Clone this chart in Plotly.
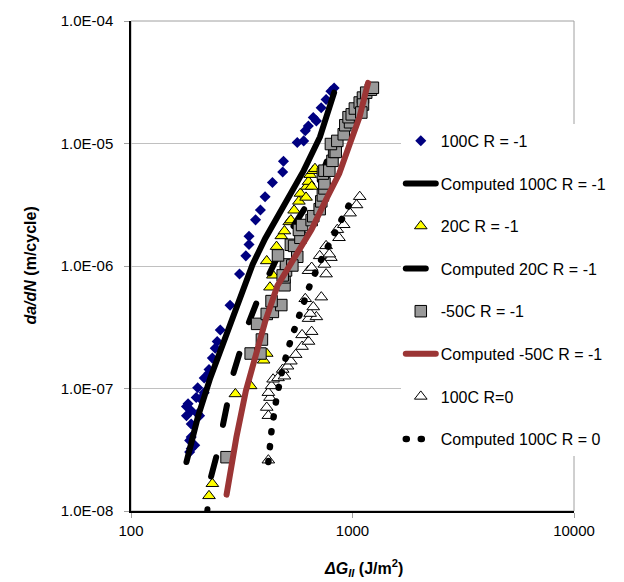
import plotly.graph_objects as go

# ---------------- data ----------------
dia_x = [184, 187, 194, 184, 187, 187, 178, 204, 200, 187, 178, 181, 197, 206, 214, 200, 214, 225, 225, 233,
         240, 245, 253, 280, 309, 330, 341, 341, 365, 384, 403, 435, 484, 488, 563, 602, 612, 632, 687, 665,
         722, 760, 799, 826]
dia_y = [3.03e-8, 3.24e-8, 3.44e-8, 3.77e-8, 4.01e-8, 5.14e-8, 6.0e-8, 6.0e-8, 6.23e-8, 6.58e-8,
         7.13e-8, 7.5e-8, 8.43e-8, 8.23e-8, 9.25e-8, 1.015e-7, 1.22e-7, 1.34e-7, 1.43e-7, 1.77e-7,
         2.13e-7, 2.42e-7, 3.0e-7, 4.78e-7, 8.59e-7, 1.21e-6, 1.5e-6, 1.75e-6, 2.38e-6, 2.87e-6,
         3.68e-6, 4.8e-6, 5.86e-6, 7.16e-6, 1.02e-5, 1.05e-5, 1.27e-5, 1.39e-5, 1.53e-5, 1.63e-5,
         1.96e-5, 2.29e-5, 2.67e-5, 2.84e-5]

c100_x = [178, 200, 228, 262, 299, 354, 403, 493, 602, 713, 826]
c100_y = [2.51e-8, 5.78e-8, 1.22e-7, 2.37e-7, 4.54e-7, 1.03e-6, 1.67e-6, 3.25e-6, 6.0e-6, 1.13e-5, 2.6e-5]

t20_x = [225, 233, 296, 347, 397, 410, 424, 437, 410, 454, 477, 493, 518, 527, 545, 573, 582, 617, 622,
         633, 654, 644, 665, 677]
t20_y = [1.33e-8, 1.67e-8, 9.03e-8, 1.05e-7, 1.70e-7, 1.93e-7, 6.71e-7, 8.4e-7, 1.10e-6, 1.44e-6,
         1.76e-6, 1.93e-6, 2.29e-6, 2.37e-6, 2.85e-6, 3.37e-6, 3.91e-6, 3.63e-6, 4.46e-6, 4.89e-6,
         4.46e-6, 5.57e-6, 6.0e-6, 6.23e-6]

c20_x = [217, 228, 245, 262, 290, 340, 388, 446, 545, 685, 788]
c20_y = [7.1e-9, 1.80e-8, 2.96e-8, 5.17e-8, 1.33e-7, 3.44e-7, 6.34e-7, 1.07e-6, 2.16e-6, 4.14e-6, 8.23e-6]

s50_x = [270, 347, 384, 371, 390, 410, 437, 477, 431, 493, 493, 501, 501, 563, 461, 527, 545, 582, 573,
         592, 654, 665, 711, 723, 735, 747, 747, 735, 747, 786, 812, 826, 840, 799, 854, 913, 928, 975,
         960, 992, 1025, 1078, 1115, 1115, 1096, 1153, 1211, 1236, 535, 484]
s50_y = [2.75e-8, 1.93e-7, 1.93e-7, 3.37e-7, 2.51e-7, 4.06e-7, 4.22e-7, 4.8e-7, 5.17e-7, 6.96e-7,
         8.08e-7, 9.2e-7, 1.03e-6, 1.19e-6, 1.22e-6, 1.49e-6, 1.46e-6, 1.70e-6, 1.97e-6, 2.16e-6,
         2.37e-6, 2.55e-6, 2.91e-6, 3.37e-6, 3.77e-6, 4.30e-6, 4.72e-6, 5.68e-6, 6.0e-6, 6.0e-6,
         7.22e-6, 8.54e-6, 8.54e-6, 9.9e-6, 1.05e-5, 1.19e-5, 1.41e-5, 1.49e-5, 1.64e-5, 1.73e-5,
         1.93e-5, 2.16e-5, 2.37e-5, 2.08e-5, 1.79e-5, 2.60e-5, 2.75e-5, 2.85e-5, 1.01e-6, 8.38e-7]

r50_x = [270, 299, 330, 365, 403, 458, 545, 652, 757, 871, 972, 1075, 1176]
r50_y = [1.36e-8, 3.99e-8, 9.55e-8, 1.83e-7, 3.50e-7, 6.9e-7, 1.17e-6, 1.97e-6, 3.44e-6, 5.68e-6,
         9.9e-6, 1.64e-5, 3.13e-5]

o_x = [417, 410, 417, 424, 417, 431, 438, 461, 493, 484, 509, 527, 554, 592, 633, 592, 654, 633, 687,
       644, 665, 612, 723, 633, 760, 711, 799, 654, 747, 786, 760, 869, 854, 913, 975, 1043, 1078]
o_y = [2.60e-8, 7.0e-8, 6.0e-8, 8.43e-8, 9.25e-8, 1.05e-7, 1.19e-7, 1.22e-7, 1.26e-7, 1.43e-7,
       1.52e-7, 1.67e-7, 1.89e-7, 2.20e-7, 2.42e-7, 2.74e-7, 2.91e-7, 3.72e-7, 3.84e-7, 4.09e-7,
       4.63e-7, 5.40e-7, 5.57e-7, 9.15e-7, 8.59e-7, 1.21e-6, 1.17e-6, 9.72e-7, 1.03e-6, 1.25e-6,
       1.46e-6, 1.70e-6, 1.98e-6, 2.17e-6, 2.70e-6, 3.15e-6, 3.68e-6]

d_x = [417, 431, 454, 484, 527, 582, 644, 723, 826, 928, 1025]
d_y = [2.51e-8, 4.54e-8, 8.38e-8, 1.46e-7, 2.51e-7, 4.38e-7, 7.09e-7, 1.13e-6, 1.86e-6, 2.70e-6, 3.91e-6]

names = ["100C R = -1", "Computed 100C R = -1", "20C R = -1", "Computed 20C R = -1",
         "-50C R = -1", "Computed -50C R = -1", "100C R=0", "Computed 100C R = 0"]

x_ticks = [100, 1000, 10000]
x_ticktext = ["100", "1000", "10000"]
y_ticks = [1e-8, 1e-7, 1e-6, 1e-5, 1e-4]
y_ticktext = ["1.0E-08", "1.0E-07", "1.0E-06", "1.0E-05", "1.0E-04"]

FONT = "Arial, Liberation Sans, sans-serif"

fig = go.Figure()

fig.add_trace(go.Scatter(x=dia_x, y=dia_y, mode="markers", name=names[0], legendgroup="g1",
                         marker=dict(symbol="diamond", size=8.5, color="#000080",
                                     line=dict(width=0))))
fig.add_trace(go.Scatter(x=c100_x, y=c100_y, mode="lines", name=names[1], legendgroup="g2",
                         line=dict(color="black", width=6)))
fig.add_trace(go.Scatter(x=t20_x, y=t20_y, mode="markers", name=names[2], legendgroup="g3",
                         marker=dict(symbol="triangle-up", size=11, color="#FFFF00",
                                     line=dict(width=1, color="black"))))
fig.add_trace(go.Scatter(x=c20_x, y=c20_y, mode="lines", name=names[3], legendgroup="g4",
                         line=dict(color="black", width=6, dash="20px,33px")))
fig.add_trace(go.Scatter(x=s50_x, y=s50_y, mode="markers", name=names[4], legendgroup="g5",
                         marker=dict(symbol="square", size=11.5, color="#999999",
                                     line=dict(width=1, color="black"))))
fig.add_trace(go.Scatter(x=r50_x, y=r50_y, mode="lines", name=names[5], legendgroup="g6",
                         line=dict(color="#9B3535", width=6)))
fig.add_trace(go.Scatter(x=o_x, y=o_y, mode="markers", name=names[6], legendgroup="g7",
                         marker=dict(symbol="triangle-up", size=11, color="white",
                                     line=dict(width=1, color="black"))))
fig.add_trace(go.Scatter(x=d_x, y=d_y, mode="lines", name=names[7], legendgroup="g8",
                         line=dict(color="black", width=6.5, dash="1px,14px")))

fig.update_layout(
    width=624, height=582,
    margin=dict(l=131, r=33, t=15, b=71, pad=0),
    paper_bgcolor="white", plot_bgcolor="white",
    font=dict(family=FONT, size=15, color="black"),
    showlegend=True,
    legend=dict(x=0.609, y=0.79, xanchor="left", yanchor="top", bgcolor="white",
                borderwidth=0, font=dict(size=16, family=FONT, color="black"),
                tracegroupgap=18.8, itemwidth=30, traceorder="grouped"),
    xaxis=dict(type="log", range=[2, 4], tickvals=x_ticks, ticktext=x_ticktext,
               showgrid=False, zeroline=False, showline=True, linecolor="black", linewidth=1.5,
               ticks="outside", ticklen=5, tickcolor="#A0A0A0", tickfont=dict(size=15),
               ticklabelstandoff=0),
    yaxis=dict(type="log", range=[-8, -4], tickvals=y_ticks, ticktext=y_ticktext,
               showgrid=True, gridcolor="#C0C0C0", gridwidth=1, zeroline=False,
               showline=True, linecolor="black", linewidth=1.5,
               ticks="outside", ticklen=5, tickcolor="#A0A0A0", tickfont=dict(size=15),
               ticklabelstandoff=8),
    shapes=[dict(type="rect", xref="paper", yref="paper", x0=0, x1=1, y0=0, y1=1,
                 line=dict(color="#A0A0A0", width=1), layer="below")],
    annotations=[
        dict(text="<b><i>da/dN</i> (m/cycle)</b>", xref="paper", yref="paper",
             x=-0.229, y=0.5, xanchor="center", yanchor="middle", textangle=-90,
             showarrow=False, font=dict(size=16, family=FONT)),
        dict(text="<b><i>ΔG<sub>II</sub></i> (J/m<sup>2</sup>)</b>", xref="paper", yref="paper",
             x=0.524, y=-0.116, xanchor="center", yanchor="middle",
             showarrow=False, font=dict(size=16, family=FONT)),
    ],
)

post = ("var s=document.createElement('style');"
        "s.textContent='.js-line{stroke-linecap:round;}';"
        "document.head.appendChild(s);")
fig.write_html("out.html", post_script=post)
